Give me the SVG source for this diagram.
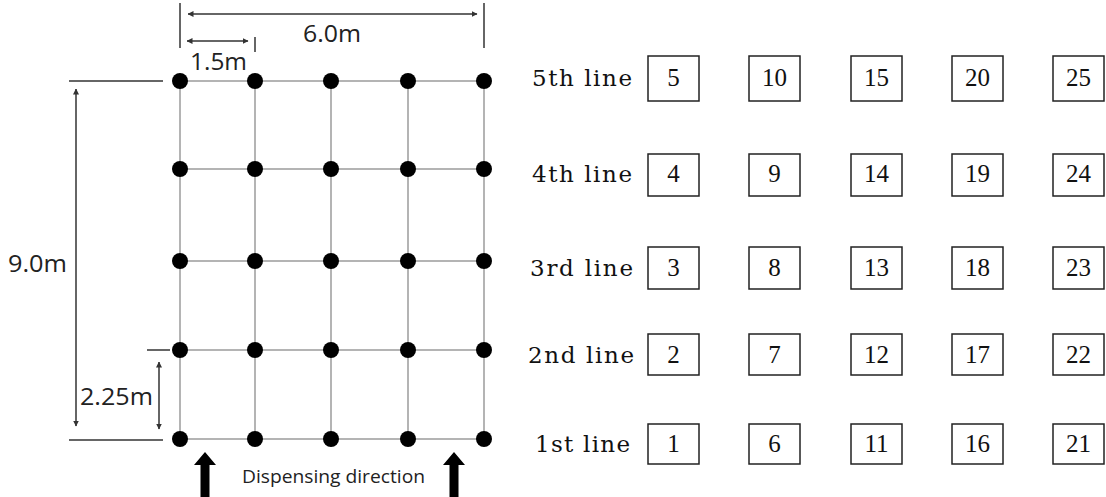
<svg xmlns="http://www.w3.org/2000/svg" width="1106" height="497" viewBox="0 0 1106 497">
<style>
.grid{stroke:#b4b4b4;stroke-width:2;fill:none}
.dim{stroke:#333;stroke-width:1.5;fill:none}
.dot{fill:#000}
.box{fill:#fff;stroke:#222;stroke-width:1.5}
.sans{font-family:"Open Sans","Noto Sans",sans-serif;fill:#222}
.serif{font-family:"DejaVu Serif","Liberation Serif",serif;fill:#111;white-space:pre}
.num{font-family:"Liberation Serif","DejaVu Serif",serif;fill:#111;font-size:25px;text-anchor:middle}
</style>
<defs>
<marker id="ah" viewBox="0 0 6 6" refX="5.5" refY="3" markerWidth="6" markerHeight="6" orient="auto-start-reverse" markerUnits="userSpaceOnUse">
<path d="M0,0 L6,3 L0,6 z" fill="#333"/>
</marker>
</defs>
<rect width="1106" height="497" fill="#fff"/>
<g id="connectors">
<g class="grid">
<line x1="180" y1="81" x2="484" y2="81"/>
<line x1="180" y1="169" x2="484" y2="169"/>
<line x1="180" y1="261" x2="484" y2="261"/>
<line x1="180" y1="350" x2="484" y2="350"/>
<line x1="180" y1="439" x2="484" y2="439"/>
<line x1="180" y1="81" x2="180" y2="439"/>
<line x1="255" y1="81" x2="255" y2="439"/>
<line x1="331" y1="81" x2="331" y2="439"/>
<line x1="408" y1="81" x2="408" y2="439"/>
<line x1="484" y1="81" x2="484" y2="439"/>
</g>
<g class="dim">
<line x1="180" y1="3" x2="180" y2="48"/>
<line x1="484" y1="3" x2="484" y2="48"/>
<line x1="188" y1="14" x2="477" y2="14" marker-start="url(#ah)" marker-end="url(#ah)"/>
<line x1="255" y1="37" x2="255" y2="52"/>
<line x1="187" y1="41" x2="248" y2="41" marker-start="url(#ah)" marker-end="url(#ah)"/>
<line x1="69" y1="81" x2="163" y2="81"/>
<line x1="69" y1="440" x2="163" y2="440"/>
<line x1="76" y1="89" x2="76" y2="426" marker-start="url(#ah)" marker-end="url(#ah)"/>
<line x1="147" y1="350" x2="170" y2="350"/>
<line x1="159" y1="362" x2="159" y2="429" marker-start="url(#ah)" marker-end="url(#ah)"/>
</g>
<g fill="#000">
<path d="M205,452 L216,465 L209.5,465 L209.5,497 L200.5,497 L200.5,465 L194,465 z"/>
<path d="M454,452 L465,465 L458.5,465 L458.5,497 L449.5,497 L449.5,465 L443,465 z"/>
</g>
</g>
<g id="points" class="dot">
<circle cx="180" cy="81" r="8"/><circle cx="255" cy="81" r="8"/><circle cx="331" cy="81" r="8"/><circle cx="408" cy="81" r="8"/><circle cx="484" cy="81" r="8"/>
<circle cx="180" cy="169" r="8"/><circle cx="255" cy="169" r="8"/><circle cx="331" cy="169" r="8"/><circle cx="408" cy="169" r="8"/><circle cx="484" cy="169" r="8"/>
<circle cx="180" cy="261" r="8"/><circle cx="255" cy="261" r="8"/><circle cx="331" cy="261" r="8"/><circle cx="408" cy="261" r="8"/><circle cx="484" cy="261" r="8"/>
<circle cx="180" cy="350" r="8"/><circle cx="255" cy="350" r="8"/><circle cx="331" cy="350" r="8"/><circle cx="408" cy="350" r="8"/><circle cx="484" cy="350" r="8"/>
<circle cx="180" cy="439" r="8"/><circle cx="255" cy="439" r="8"/><circle cx="331" cy="439" r="8"/><circle cx="408" cy="439" r="8"/><circle cx="484" cy="439" r="8"/>
</g>
<g id="dim-labels" class="sans">
<text x="303" y="42" font-size="24" textLength="58" lengthAdjust="spacingAndGlyphs">6.0m</text>
<text x="190" y="70" font-size="24" textLength="57" lengthAdjust="spacingAndGlyphs">1.5m</text>
<text x="8" y="272" font-size="24" textLength="59" lengthAdjust="spacingAndGlyphs">9.0m</text>
<text x="80" y="405" font-size="24" textLength="73" lengthAdjust="spacingAndGlyphs">2.25m</text>
<text x="242" y="483" font-size="19" textLength="183" lengthAdjust="spacingAndGlyphs">Dispensing direction</text>
</g>
<g id="line-labels" class="serif" font-size="23">
<text x="532" y="86" textLength="100" lengthAdjust="spacing">5th  line</text>
<text x="532" y="182" textLength="100" lengthAdjust="spacing">4th  line</text>
<text x="530" y="276" textLength="103" lengthAdjust="spacing">3rd  line</text>
<text x="528" y="363" textLength="106" lengthAdjust="spacing">2nd  line</text>
<text x="535" y="452" textLength="95" lengthAdjust="spacing">1st  line</text>
</g>
<g id="row5">
<rect class="box" x="648" y="56" width="51" height="45"/><text class="num" x="673.5" y="86">5</text>
<rect class="box" x="749" y="56" width="51" height="45"/><text class="num" x="774.5" y="86">10</text>
<rect class="box" x="851" y="56" width="51" height="45"/><text class="num" x="876.5" y="86">15</text>
<rect class="box" x="952" y="56" width="51" height="45"/><text class="num" x="977.5" y="86">20</text>
<rect class="box" x="1053" y="56" width="51" height="45"/><text class="num" x="1078.5" y="86">25</text>
</g>
<g id="row4">
<rect class="box" x="648" y="154" width="51" height="42"/><text class="num" x="673.5" y="182">4</text>
<rect class="box" x="749" y="154" width="51" height="42"/><text class="num" x="774.5" y="182">9</text>
<rect class="box" x="851" y="154" width="51" height="42"/><text class="num" x="876.5" y="182">14</text>
<rect class="box" x="952" y="154" width="51" height="42"/><text class="num" x="977.5" y="182">19</text>
<rect class="box" x="1053" y="154" width="51" height="42"/><text class="num" x="1078.5" y="182">24</text>
</g>
<g id="row3">
<rect class="box" x="648" y="247" width="51" height="42"/><text class="num" x="673.5" y="276">3</text>
<rect class="box" x="749" y="247" width="51" height="42"/><text class="num" x="774.5" y="276">8</text>
<rect class="box" x="851" y="247" width="51" height="42"/><text class="num" x="876.5" y="276">13</text>
<rect class="box" x="952" y="247" width="51" height="42"/><text class="num" x="977.5" y="276">18</text>
<rect class="box" x="1053" y="247" width="51" height="42"/><text class="num" x="1078.5" y="276">23</text>
</g>
<g id="row2">
<rect class="box" x="648" y="334" width="51" height="41"/><text class="num" x="673.5" y="363">2</text>
<rect class="box" x="749" y="334" width="51" height="41"/><text class="num" x="774.5" y="363">7</text>
<rect class="box" x="851" y="334" width="51" height="41"/><text class="num" x="876.5" y="363">12</text>
<rect class="box" x="952" y="334" width="51" height="41"/><text class="num" x="977.5" y="363">17</text>
<rect class="box" x="1053" y="334" width="51" height="41"/><text class="num" x="1078.5" y="363">22</text>
</g>
<g id="row1">
<rect class="box" x="648" y="424" width="51" height="40"/><text class="num" x="673.5" y="452">1</text>
<rect class="box" x="749" y="424" width="51" height="40"/><text class="num" x="774.5" y="452">6</text>
<rect class="box" x="851" y="424" width="51" height="40"/><text class="num" x="876.5" y="452">11</text>
<rect class="box" x="952" y="424" width="51" height="40"/><text class="num" x="977.5" y="452">16</text>
<rect class="box" x="1053" y="424" width="51" height="40"/><text class="num" x="1078.5" y="452">21</text>
</g>
</svg>
